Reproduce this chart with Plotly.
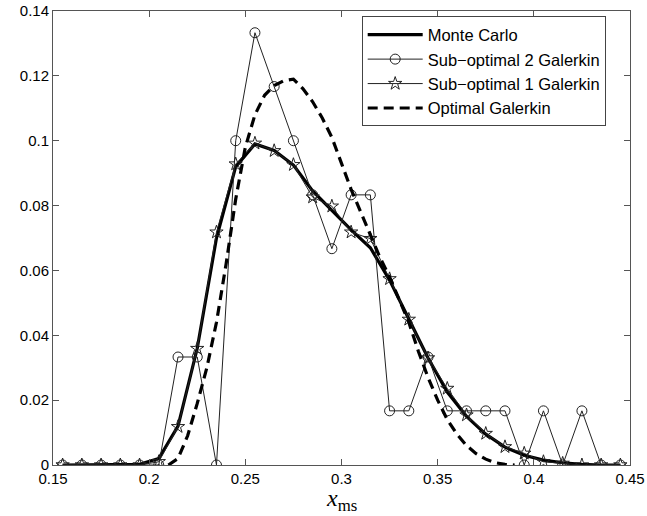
import plotly.graph_objects as go

# bin centres
x_bins = [0.155, 0.165, 0.175, 0.185, 0.195, 0.205, 0.215, 0.225, 0.235, 0.245,
          0.255, 0.265, 0.275, 0.285, 0.295, 0.305, 0.315, 0.325, 0.335, 0.345,
          0.355, 0.365, 0.375, 0.385, 0.395, 0.405, 0.415, 0.425, 0.435, 0.445]

monte_carlo = [0, 0, 0, 0, 0.0002, 0.002, 0.012, 0.036, 0.070, 0.092,
               0.099, 0.097, 0.0925, 0.0845, 0.0785, 0.0725, 0.067, 0.057, 0.045, 0.033,
               0.0225, 0.015, 0.0095, 0.0055, 0.003, 0.0015, 0.0007, 0.0002, 0, 0]

sub_opt2 = [0, 0, 0, 0, 0, 0, 0.0333, 0.0333, 0, 0.1,
            0.1333, 0.1167, 0.1, 0.0833, 0.0667, 0.0833, 0.0833, 0.0167, 0.0167, 0.0333,
            0.0167, 0.0167, 0.0167, 0.0167, 0, 0.0167, 0, 0.0167, 0, 0]

sub_opt1 = [0, 0, 0, 0, 0, 0.001, 0.0118, 0.0359, 0.0718, 0.0928,
            0.0992, 0.0969, 0.0926, 0.0826, 0.0798, 0.0718, 0.0698, 0.0574, 0.0449, 0.033,
            0.0236, 0.0154, 0.0097, 0.0056, 0.0036, 0.001, 0.0005, 0, 0, 0]

x_opt = [0.21, 0.215, 0.22, 0.225, 0.23, 0.235, 0.24, 0.245, 0.25, 0.255,
         0.26, 0.265, 0.27, 0.275, 0.28, 0.285, 0.29, 0.295, 0.30, 0.305,
         0.31, 0.315, 0.32, 0.325, 0.33, 0.335, 0.34, 0.345, 0.35, 0.355,
         0.36, 0.365, 0.37, 0.375, 0.38, 0.385, 0.39]
optimal = [0, 0.002, 0.009, 0.019, 0.030, 0.044, 0.062, 0.082, 0.098, 0.108,
           0.114, 0.117, 0.1185, 0.119, 0.116, 0.112, 0.107, 0.101, 0.093, 0.085,
           0.078, 0.071, 0.064, 0.058, 0.051, 0.044, 0.035, 0.027, 0.020, 0.014,
           0.0095, 0.006, 0.0035, 0.0018, 0.0007, 0.0002, 0]

x_ticks = [0.15, 0.2, 0.25, 0.3, 0.35, 0.4, 0.45]
x_tick_labels = ["0.15", "0.2", "0.25", "0.3", "0.35", "0.4", "0.45"]
y_ticks = [0, 0.02, 0.04, 0.06, 0.08, 0.1, 0.12, 0.14]
y_tick_labels = ["0", "0.02", "0.04", "0.06", "0.08", "0.1", "0.12", "0.14"]

fig = go.Figure()
fig.add_trace(go.Scatter(x=x_bins, y=monte_carlo, mode="lines", name="Monte Carlo",
                         line=dict(color="black", width=3.2)))
fig.add_trace(go.Scatter(x=x_bins, y=sub_opt2, mode="lines+markers", name="Sub\u2212optimal 2 Galerkin",
                         line=dict(color="#222", width=1),
                         marker=dict(symbol="circle-open", size=10, color="#222", line=dict(width=1))))
fig.add_trace(go.Scatter(x=x_bins, y=sub_opt1, mode="lines+markers", name="Sub\u2212optimal 1 Galerkin",
                         line=dict(color="#222", width=1),
                         marker=dict(symbol="star-open", size=10, color="#222", line=dict(width=1))))
fig.add_trace(go.Scatter(x=x_opt, y=optimal, mode="lines", name="Optimal Galerkin",
                         line=dict(color="black", width=3.2, dash="10px,6px")))

axis_common = dict(showline=True, linecolor="#555", linewidth=1, mirror="ticks",
                   ticks="inside", ticklen=6, tickcolor="#555", showgrid=False, zeroline=False,
                   automargin=False, ticklabeloverflow="allow",
                   tickfont=dict(family="Liberation Sans, Arial, sans-serif", size=15, color="black"))

fig.update_xaxes(range=[0.15, 0.45], tickvals=x_ticks, ticktext=x_tick_labels, **axis_common)
fig.update_yaxes(range=[0, 0.14], tickvals=y_ticks, ticktext=y_tick_labels, **axis_common)

fig.add_annotation(text="<i>x</i><sub>ms</sub>", xref="paper", yref="paper",
                   x=0.5, y=-0.077, xanchor="center", yanchor="middle", showarrow=False,
                   font=dict(family="Liberation Serif, Times New Roman, serif", size=24, color="black"))

fig.update_layout(
    width=647, height=516,
    margin=dict(l=53, r=17, t=11, b=51),
    plot_bgcolor="white", paper_bgcolor="white",
    legend=dict(x=0.535, y=0.988, xanchor="left", yanchor="top",
                bordercolor="#444", borderwidth=1, bgcolor="white",
                font=dict(family="Liberation Sans, Arial, sans-serif", size=16.5, color="black"),
                tracegroupgap=0, itemwidth=55),
    showlegend=True,
)

# remove the page's default body margin so the figure sits at the window's top-left corner
fig.write_html("out.html", config={"displayModeBar": False},
               post_script="document.body.style.margin='0';")
